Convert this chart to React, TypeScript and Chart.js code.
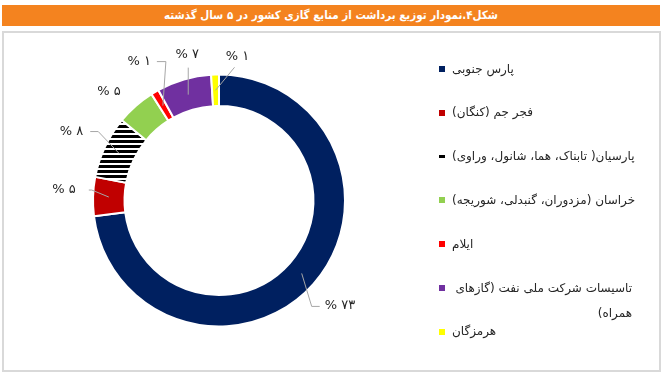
import React, { useEffect, useRef } from "react";
import { Chart, registerables } from "chart.js";

Chart.register(...registerables);

const TITLE = "شکل۴.نمودار توزیع برداشت از منابع گازی کشور در ۵ سال گذشته";
const categories = [
  "پارس جنوبی",
  "فجر جم (کنگان)",
  "پارسیان( تابناک، هما، شانول، وراوی)",
  "خراسان (مزدوران، گنبدلی، شوریجه)",
  "ایلام",
  "تاسیسات شرکت ملی نفت (گازهای همراه)",
  "هرمزگان",
];
const shares = [73, 5, 8, 5, 1, 7, 1];
const sliceColors = ["#002060", "#C00000", "STRIPES", "#92D050", "#FF0000", "#7030A0", "#FFFF00"];

// label placement relative to each slice's mid-ring anchor
const labelLayout: any[] = [
  { elbow: [10, 33], tail: [18, 33], text: [23, 32], align: "left" },
  { elbow: [-17, -7], tail: [-20, -7], text: [-33, -7], align: "right" },
  { elbow: [-21, -22], tail: [-29, -22], text: [-36, -22], align: "right" },
  { text: [-37, -26], align: "center" },
  { elbow: [3, -44], tail: [-6, -44], text: [-12, -44], align: "right" },
  { elbow: [0, -27], text: [-1, -40], align: "center" },
  { elbow: [19, -23], text: [22, -34], align: "center" },
];

// legend entry that wraps onto two lines in the original
const WRAPPED_ENTRY = 5;

const FONT = "'DejaVu Sans', sans-serif";
const TITLE_FONT = "'DejaVu Sans Condensed', 'DejaVu Sans', sans-serif";

function toFa(n: number) {
  return String(n).replace(/[0-9]/g, (d) => "۰۱۲۳۴۵۶۷۸۹"[+d]);
}

function makeStripes(): CanvasPattern | string {
  const c = document.createElement("canvas");
  c.width = 8;
  c.height = 5;
  const g = c.getContext("2d");
  if (!g) return "#000";
  g.fillStyle = "#fff";
  g.fillRect(0, 0, 8, 5);
  g.fillStyle = "#000";
  g.fillRect(0, 0, 8, 3);
  return g.createPattern(c, "repeat") || "#000";
}

const labelPlugin = {
  id: "sliceLabels",
  afterDatasetsDraw(chart: any) {
    const ctx = chart.ctx;
    const meta = chart.getDatasetMeta(0);
    ctx.save();
    ctx.font = `13px ${FONT}`;
    ctx.fillStyle = "#262626";
    ctx.strokeStyle = "#A6A6A6";
    ctx.lineWidth = 1;
    ctx.textBaseline = "middle";
    meta.data.forEach((arc: any, i: number) => {
      const p = arc.getProps(["x", "y", "startAngle", "endAngle", "innerRadius", "outerRadius"], true);
      const mid = (p.startAngle + p.endAngle) / 2;
      const r = (p.innerRadius + p.outerRadius) / 2;
      const ax = p.x + Math.cos(mid) * r;
      const ay = p.y + Math.sin(mid) * r;
      const L = labelLayout[i];
      if (L.elbow) {
        ctx.beginPath();
        ctx.moveTo(ax, ay);
        ctx.lineTo(ax + L.elbow[0], ay + L.elbow[1]);
        if (L.tail) ctx.lineTo(ax + L.tail[0], ay + L.tail[1]);
        ctx.stroke();
      }
      ctx.textAlign = L.align;
      ctx.fillText("% " + toFa(shares[i]), ax + L.text[0], ay + L.text[1]);
    });
    ctx.restore();
  },
};

export default function App() {
  const ref = useRef<HTMLCanvasElement | null>(null);

  useEffect(() => {
    if (!ref.current) return;
    const stripes = makeStripes();
    const bg = sliceColors.map((c) => (c === "STRIPES" ? stripes : c));
    const chart = new Chart(ref.current, {
      type: "doughnut",
      data: {
        labels: categories,
        datasets: [
          {
            data: shares,
            backgroundColor: bg as any,
            borderColor: "#ffffff",
            borderWidth: 2,
            hoverOffset: 0,
          },
        ],
      },
      options: {
        animation: false,
        responsive: false,
        maintainAspectRatio: false,
        radius: 126,
        cutout: "75%",
        layout: { padding: { left: 93, right: 317, top: 74, bottom: 48 } },
        plugins: { legend: { display: false }, tooltip: { enabled: false } },
      } as any,
      plugins: [labelPlugin],
    });
    return () => chart.destroy();
  }, []);

  const itemTop = (i: number) => 69 + i * 43.8 - 12.5;

  return (
    <div
      style={{
        position: "absolute",
        left: 0,
        top: 0,
        width: 662,
        height: 375,
        background: "#fff",
        overflow: "hidden",
        fontFamily: FONT,
      }}
    >
      <div
        style={{
          position: "absolute",
          left: 2,
          top: 5,
          width: 658,
          height: 21,
          background: "#F4831F",
          color: "#fff",
          fontFamily: TITLE_FONT,
          fontSize: 11.5,
          lineHeight: "21px",
          textAlign: "center",
          direction: "rtl",
          fontWeight: "bold",
        }}
      >
        {TITLE}
      </div>
      <div
        style={{
          position: "absolute",
          left: 2,
          top: 31,
          width: 659,
          height: 341,
          border: "2px solid #D9D9D9",
          boxSizing: "border-box",
        }}
      />
      <canvas
        ref={ref}
        width={662}
        height={375}
        style={{ position: "absolute", left: 0, top: 0, width: 662, height: 375 }}
      />
      {categories.map((name, i) => (
        <div
          key={i}
          style={{
            position: "absolute",
            left: 439,
            top: itemTop(i),
            display: "flex",
            alignItems: "flex-start",
          }}
        >
          <div style={{ width: 6, height: 25, position: "relative", flex: "0 0 6px" }}>
            {sliceColors[i] === "STRIPES" ? (
              <div style={{ position: "absolute", left: 0, top: 11, width: 6, height: 3, background: "#000" }} />
            ) : (
              <div style={{ position: "absolute", left: 0, top: 9.5, width: 6, height: 6, background: sliceColors[i] }} />
            )}
          </div>
          <div
            style={{
              marginLeft: 7,
              width: i === WRAPPED_ENTRY ? 180 : undefined,
              whiteSpace: i === WRAPPED_ENTRY ? "normal" : "nowrap",
              direction: "rtl",
              fontSize: 12,
              lineHeight: "25px",
              color: "#262626",
            }}
          >
            {name}
          </div>
        </div>
      ))}
    </div>
  );
}
